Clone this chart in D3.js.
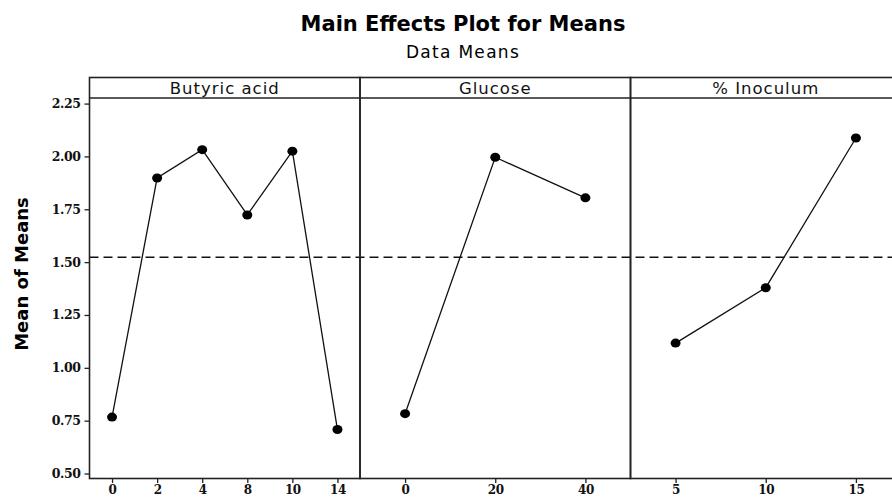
<!DOCTYPE html>
<html lang="en"><head>
<meta charset="UTF-8">
<title>Main Effects Plot for Means</title>
<script src="https://cdn.jsdelivr.net/npm/d3@7/dist/d3.min.js"></script>
<style>
body { margin: 0; background: #fff; }
</style>
</head>
<body>
<script>

var width = 892;
var height = 498;

// factors and their level means
var factors = ["Butyric acid", "Glucose", "% Inoculum"];
var butyricLevels = ["0", "2", "4", "8", "10", "14"];
var butyricMeans = [0.767, 1.898, 2.032, 1.723, 2.025, 0.708];
var glucoseLevels = ["0", "20", "40"];
var glucoseMeans = [0.783, 1.996, 1.804];
var inoculumLevels = ["5", "10", "15"];
var inoculumMeans = [1.117, 1.379, 2.087];
var grandMean = 1.523;
var yTicks = [0.50, 0.75, 1.00, 1.25, 1.50, 1.75, 2.00, 2.25];

var panels = [
  {name: factors[0], levels: butyricLevels, means: butyricMeans},
  {name: factors[1], levels: glucoseLevels, means: glucoseMeans},
  {name: factors[2], levels: inoculumLevels, means: inoculumMeans}
];

var left = 89.5, panelW = 270.5;
var stripTop = 77.5, plotTop = 98, plotBottom = 478.5;

var svg = d3.select("body").append("svg")
  .attr("width", width)
  .attr("height", height)
  .style("font-family", "'DejaVu Sans', sans-serif");

var y = d3.scaleLinear()
  .domain([0.4764, 2.2764])
  .range([plotBottom, plotTop]);

// title
svg.append("text")
  .attr("x", 463).attr("y", 31)
  .attr("text-anchor", "middle")
  .attr("font-size", 21).attr("font-weight", "bold")
  .text("Main Effects Plot for Means");
svg.append("text")
  .attr("x", 463).attr("y", 58)
  .attr("text-anchor", "middle")
  .attr("font-size", 17).attr("letter-spacing", 1.3)
  .text("Data Means");

// y label
svg.append("text")
  .attr("transform", "translate(28," + 274 + ") rotate(-90)")
  .attr("text-anchor", "middle")
  .attr("font-size", 18).attr("font-weight", "bold")
  .text("Mean of Means");

// y axis
var yAxis = svg.append("g")
  .attr("transform", "translate(" + left + ",0)")
  .call(d3.axisLeft(y).tickValues(yTicks).tickFormat(d3.format(".2f")).tickSize(5).tickSizeOuter(0));
yAxis.select(".domain").remove();
yAxis.selectAll("line").attr("stroke", "#222").attr("stroke-width", 1.3);
yAxis.selectAll("text")
  .attr("font-family", "'DejaVu Serif', serif")
  .attr("font-weight", "bold")
  .attr("font-size", 12.5).attr("fill", "#111")
  .attr("letter-spacing", -0.4).attr("x", -9);

// grand mean reference line
svg.append("line")
  .attr("x1", left).attr("x2", left + panelW * 3)
  .attr("y1", y(grandMean)).attr("y2", y(grandMean))
  .attr("stroke", "#111").attr("stroke-width", 1.4)
  .attr("stroke-dasharray", "9,5");

panels.forEach(function(p, i){
  var x0 = left + i * panelW;
  var x = d3.scalePoint()
    .domain(p.levels)
    .range([x0, x0 + panelW])
    .padding(0.5);

  var g = svg.append("g");

  // x axis
  var xAxis = g.append("g")
    .attr("transform", "translate(0," + plotBottom + ")")
    .call(d3.axisBottom(x).tickSize(4.5).tickSizeOuter(0));
  xAxis.select(".domain").remove();
  xAxis.selectAll("line").attr("stroke", "#222").attr("stroke-width", 1.3);
  xAxis.selectAll("text")
    .attr("font-family", "'DejaVu Serif', serif")
    .attr("font-weight", "bold")
    .attr("font-size", 12).attr("fill", "#111")
    .attr("letter-spacing", -0.4).attr("dy", "0").attr("y", 15.5);

  // panel frame
  g.append("rect")
    .attr("x", x0).attr("y", stripTop)
    .attr("width", panelW).attr("height", plotBottom - stripTop)
    .attr("fill", "none").attr("stroke", "#222").attr("stroke-width", 1.6);
  g.append("line")
    .attr("x1", x0).attr("x2", x0 + panelW)
    .attr("y1", plotTop).attr("y2", plotTop)
    .attr("stroke", "#222").attr("stroke-width", 1.6);

  // strip label
  g.append("text")
    .attr("x", x0 + panelW / 2).attr("y", plotTop - 4.5)
    .attr("text-anchor", "middle")
    .attr("font-size", 16.5).attr("fill", "#111")
    .attr("letter-spacing", 1)
    .text(p.name);

  var pts = p.levels.map(function(l, j){ return {level: l, mean: p.means[j]}; });

  g.append("path")
    .datum(pts)
    .attr("fill", "none").attr("stroke", "#111").attr("stroke-width", 1.3)
    .attr("d", d3.line()
      .x(function(d){ return x(d.level); })
      .y(function(d){ return y(d.mean); }));

  g.selectAll("ellipse")
    .data(pts).enter()
    .append("ellipse")
    .attr("cx", function(d){ return x(d.level); })
    .attr("cy", function(d){ return y(d.mean); })
    .attr("rx", 5).attr("ry", 4.5)
    .attr("fill", "#000");
});

</script>
</body></html>
